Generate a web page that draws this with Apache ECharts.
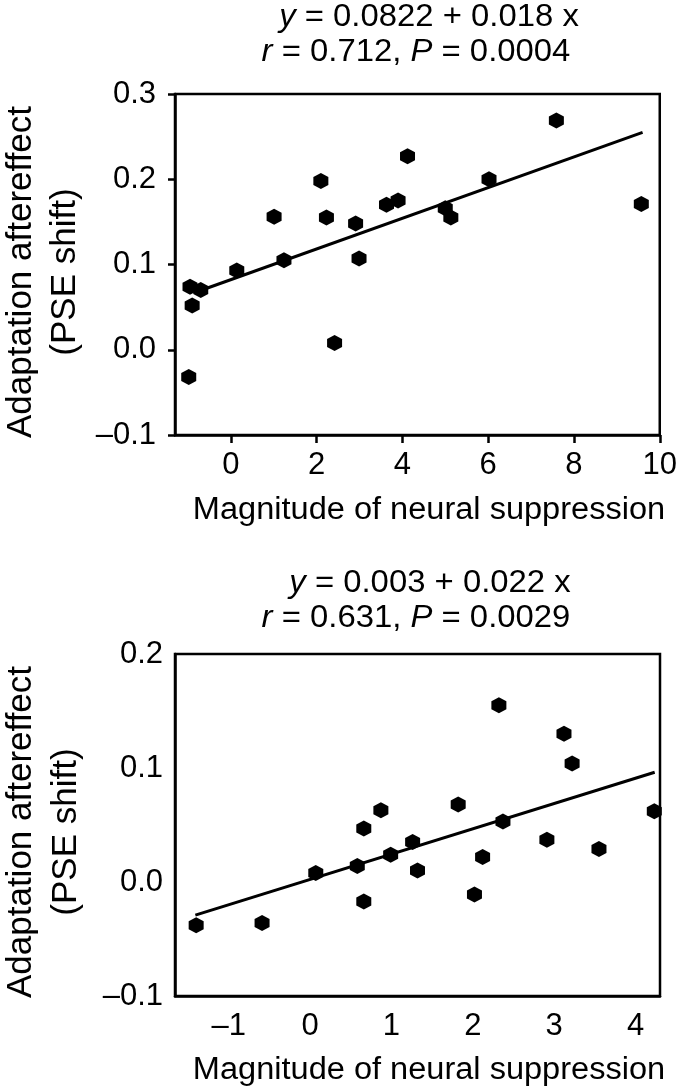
<!DOCTYPE html>
<html>
<head>
<meta charset="utf-8">
<script src="https://cdn.jsdelivr.net/npm/echarts@6/dist/echarts.min.js"></script>
<style>
  html, body { margin: 0; padding: 0; background: #fff; }
  #chart { width: 680px; height: 1088px; }
</style>
</head>
<body>
<div id="chart"></div>
<script>
// ---------- data ----------
const topX = [7.59, 4.12, 2.10, 6.02, 9.57, 3.63, 3.90, 1.01, 2.23, 2.91, 5.00, 5.13, 2.99, 1.24, 0.14, -0.95, -0.70, -0.90, 2.42, -0.98];
const topY = [0.269, 0.227, 0.198, 0.200, 0.171, 0.170, 0.175, 0.156, 0.155, 0.148, 0.166, 0.155, 0.107, 0.105, 0.093, 0.074, 0.070, 0.052, 0.008, -0.032];
const topFitX = [-0.64, 9.60];
const topFitY = [0.0707, 0.2550];

const bottomX = [-1.40, -0.59, 0.07, 0.58, 0.66, 0.66, 0.87, 0.99, 1.26, 1.32, 1.82, 2.02, 2.12, 2.32, 2.37, 2.91, 3.12, 3.22, 3.55, 4.23];
const bottomY = [-0.038, -0.036, 0.008, 0.014, -0.017, 0.047, 0.063, 0.024, 0.035, 0.010, 0.068, -0.011, 0.022, 0.155, 0.053, 0.037, 0.130, 0.104, 0.029, 0.062];
const bottomFitX = [-1.41, 4.235];
const bottomFitY = [-0.029, 0.0963];

const topXTicks = [0, 2, 4, 6, 8, 10];
const topYTicks = [-0.1, 0, 0.1, 0.2, 0.3];
const bottomXTicks = [-1, 0, 1, 2, 3, 4];
const bottomYTicks = [-0.1, 0, 0.1, 0.2];

const topXRange = [-1.3, 10];
const topYRange = [-0.1, 0.3];
const bottomXRange = [-1.66, 4.3];
const bottomYRange = [-0.1, 0.2];

const topTitle1 = '{it|y} = 0.0822 + 0.018 x';
const topTitle2 = '{it|r} = 0.712, {it|P} = 0.0004';
const bottomTitle1 = '{it|y} = 0.003 + 0.022 x';
const bottomTitle2 = '{it|r} = 0.631, {it|P} = 0.0029';
const xName = 'Magnitude of neural suppression';
const yName1 = 'Adaptation aftereffect';
const yName2 = '(PSE shift)';

// ---------- helpers ----------
const FONT = 'Liberation Sans';
const FS = 31;
const YFS = 35;
const zip = (a, b) => a.map((v, i) => [v, b[i]]);
const fmtY = v => (v < 0 ? '\u2013' : '') + Math.abs(v).toFixed(1);
const fmtX = v => (v < 0 ? '\u2013' : '') + Math.abs(v);
const hexagon = 'path://M0,-10L8.66,-5L8.66,5L0,10L-8.66,5L-8.66,-5Z';

function xAxisOpt(gridIndex, range, ticks, showTicks) {
  return {
    type: 'value', gridIndex, min: range[0], max: range[1],
    axisLine: { show: true, onZero: false, lineStyle: { color: '#000', width: 2.5 } },
    axisTick: { show: showTicks, customValues: ticks, length: 8, inside: false, lineStyle: { color: '#000', width: 2.5 } },
    axisLabel: { customValues: ticks, formatter: fmtX, color: '#000', fontFamily: FONT, fontSize: FS, margin: 15, showMinLabel: true, showMaxLabel: true },
    splitLine: { show: false }
  };
}
function yAxisOpt(gridIndex, range, ticks, showTicks, margin) {
  return {
    type: 'value', gridIndex, min: range[0], max: range[1],
    axisLine: { show: true, onZero: false, lineStyle: { color: '#000', width: 2.5 } },
    axisTick: { show: showTicks, customValues: ticks, length: 7, inside: false, lineStyle: { color: '#000', width: 2.5 } },
    axisLabel: { customValues: ticks, formatter: fmtY, color: '#000', fontFamily: FONT, fontSize: FS, margin: margin, showMinLabel: true, showMaxLabel: true },
    splitLine: { show: false }
  };
}
function txt(x, y, text, rotation, fs, sx) {
  return {
    type: 'text', x, y, rotation: rotation || 0, scaleX: sx || 1,
    style: {
      text, fill: '#000', fontFamily: FONT, fontSize: fs || FS,
      align: 'center', verticalAlign: 'middle',
      rich: { it: { fontStyle: 'italic', fontFamily: FONT, fontSize: fs || FS, fill: '#000' } }
    }
  };
}

const chart = echarts.init(document.getElementById('chart'), null, { renderer: 'canvas' });
chart.setOption({
  animation: false,
  backgroundColor: '#fff',
  grid: [
    { left: 175, top: 94, width: 485, height: 341, show: true, borderColor: '#000', borderWidth: 2.5, backgroundColor: 'transparent', containLabel: false },
    { left: 175, top: 654, width: 485, height: 342, show: true, borderColor: '#000', borderWidth: 2.5, backgroundColor: 'transparent', containLabel: false }
  ],
  xAxis: [
    xAxisOpt(0, topXRange, topXTicks, true),
    xAxisOpt(1, bottomXRange, bottomXTicks, false)
  ],
  yAxis: [
    yAxisOpt(0, topYRange, topYTicks, true, 19),
    yAxisOpt(1, bottomYRange, bottomYTicks, false, 12)
  ],
  series: [
    { type: 'line', xAxisIndex: 0, yAxisIndex: 0, data: zip(topFitX, topFitY), showSymbol: false, lineStyle: { color: '#000', width: 3 }, z: 2 },
    { type: 'scatter', xAxisIndex: 0, yAxisIndex: 0, data: zip(topX, topY), symbol: hexagon, symbolSize: [15, 16], itemStyle: { color: '#000', opacity: 1 }, z: 3 },
    { type: 'line', xAxisIndex: 1, yAxisIndex: 1, data: zip(bottomFitX, bottomFitY), showSymbol: false, lineStyle: { color: '#000', width: 3 }, z: 2 },
    { type: 'scatter', xAxisIndex: 1, yAxisIndex: 1, data: zip(bottomX, bottomY), symbol: hexagon, symbolSize: [15, 16], itemStyle: { color: '#000', opacity: 1 }, z: 3 }
  ],
  graphic: [
    txt(429, 17, topTitle1, 0, FS, 1.06),
    txt(416, 52.5, topTitle2, 0, FS, 1.06),
    txt(430, 583, bottomTitle1, 0, FS, 1.06),
    txt(416, 618.5, bottomTitle2, 0, FS, 1.06),
    txt(429, 510, xName, 0, FS, 1.05),
    txt(429, 1070, xName, 0, FS, 1.05),
    txt(21, 272, yName1, Math.PI / 2, YFS),
    txt(65, 272, yName2, Math.PI / 2, YFS),
    txt(21.5, 832, yName1, Math.PI / 2, YFS),
    txt(66, 832, yName2, Math.PI / 2, YFS)
  ]
});
</script>
</body>
</html>
